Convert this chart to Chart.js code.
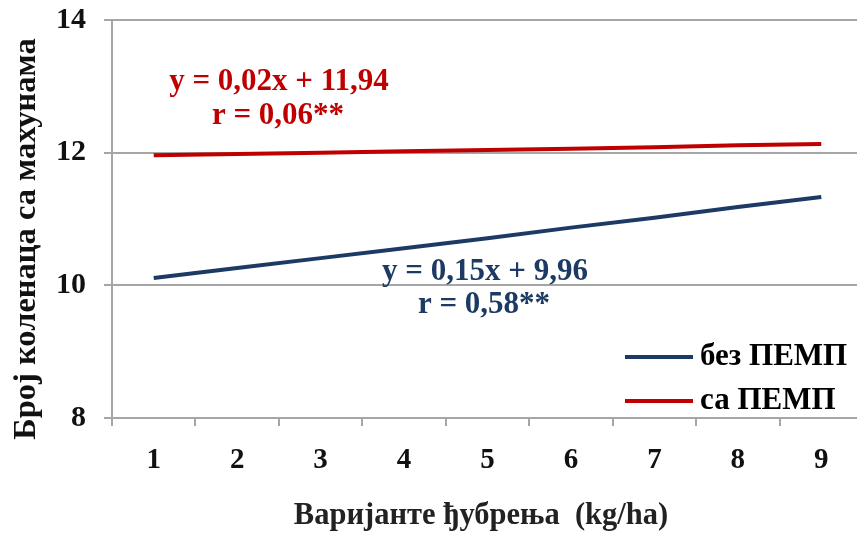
<!DOCTYPE html>
<html>
<head>
<meta charset="utf-8">
<script src="https://cdn.jsdelivr.net/npm/chart.js@4.4.0/dist/chart.umd.min.js"></script>
<style>
  html, body { margin: 0; padding: 0; background: #fff; overflow: hidden; }
  #wrap { width: 863px; height: 538px; position: relative; }
</style>
</head>
<body>
<div id="wrap"><canvas id="lineChart"></canvas></div>
<script>
// data
const variants = ['1', '2', '3', '4', '5', '6', '7', '8', '9'];
const bezPemp = [10.11, 10.26, 10.41, 10.56, 10.71, 10.87, 11.02, 11.18, 11.33];
const saPemp = [11.96, 11.98, 12.00, 12.02, 12.04, 12.06, 12.08, 12.11, 12.13];
const seriesNames = ['без ПЕМП', 'са ПЕМП'];
const yTicks = [8, 10, 12, 14];
const xTitle = 'Варијанте ђубрења  (kg/ha)';
const yTitle = 'Број коленаца са махунама';
const eqRed = ['y = 0,02x + 11,94', 'r = 0,06**'];
const eqBlue = ['y = 0,15x + 9,96', 'r = 0,58**'];

const BLUE = '#1c3a64';
const RED = '#c00000';
const GRID = '#a6a6a6';
const FONT = "'Liberation Serif', 'DejaVu Serif', serif";

// titles, equations and legend drawn on top
const extrasPlugin = {
    id: 'extras',
    afterDraw(chart) {
        const ctx = chart.ctx;
        ctx.save();
        ctx.textAlign = 'center';
        ctx.textBaseline = 'middle';

        // y title
        ctx.save();
        ctx.translate(27, 239);
        ctx.rotate(-Math.PI / 2);
        ctx.fillStyle = '#111';
        ctx.font = 'bold 32.5px ' + FONT;
        ctx.fillText(yTitle, 0, 0);
        ctx.restore();

        // x title
        ctx.fillStyle = '#222';
        ctx.font = 'bold 30.5px ' + FONT;
        ctx.fillText(xTitle, 481, 516);

        // equations
        ctx.font = 'bold 31px ' + FONT;
        ctx.fillStyle = RED;
        ctx.fillText(eqRed[0], 279, 82);
        ctx.fillText(eqRed[1], 278, 116);
        ctx.fillStyle = BLUE;
        ctx.fillText(eqBlue[0], 485, 272);
        ctx.fillText(eqBlue[1], 484, 305);

        // legend
        ctx.textAlign = 'left';
        ctx.font = 'bold 31px ' + FONT;
        chart.data.datasets.forEach((ds, i) => {
            const y = 357 + i * 44;
            ctx.strokeStyle = ds.borderColor;
            ctx.lineWidth = 4;
            ctx.beginPath();
            ctx.moveTo(625, y);
            ctx.lineTo(693, y);
            ctx.stroke();
            ctx.fillStyle = '#000';
            ctx.fillText(ds.label, 700, y);
        });
        ctx.restore();
    }
};

const ctx = document.getElementById('lineChart').getContext('2d');
const lineChart = new Chart(ctx, {
    type: 'line',
    data: {
        labels: variants,
        datasets: [{
            label: seriesNames[0],
            data: bezPemp,
            borderColor: BLUE,
            borderWidth: 4,
            pointRadius: 0,
            tension: 0
        }, {
            label: seriesNames[1],
            data: saPemp,
            borderColor: RED,
            borderWidth: 4,
            pointRadius: 0,
            tension: 0
        }]
    },
    options: {
        responsive: true,
        maintainAspectRatio: false,
        animation: false,
        layout: { padding: { top: 20, right: 0, bottom: 0, left: 0 } },
        plugins: {
            legend: { display: false },
            tooltip: { enabled: false }
        },
        scales: {
            x: {
                offset: true,
                grid: { offset: true, drawOnChartArea: false, tickLength: 8, color: GRID, lineWidth: 2 },
                border: { color: GRID, width: 2 },
                ticks: {
                    color: '#111',
                    padding: 17,
                    maxRotation: 0,
                    font: { family: FONT, size: 29, weight: 'bold' }
                },
                afterFit(scale) {
                    scale.height = 120;
                    scale.paddingLeft = 0;
                    scale.paddingRight = 0;
                }
            },
            y: {
                min: 8,
                max: 14,
                afterBuildTicks(scale) { scale.ticks = yTicks.map(v => ({ value: v })); },
                grid: { tickLength: 8, color: GRID, lineWidth: 2 },
                border: { color: GRID, width: 2 },
                ticks: {
                    color: '#111',
                    padding: 18,
                    font: { family: FONT, size: 30, weight: 'bold' }
                },
                afterFit(scale) {
                    scale.width = 112;
                    scale.paddingTop = 0;
                    scale.paddingBottom = 0;
                }
            }
        }
    },
    plugins: [extrasPlugin]
});
</script>
</body>
</html>
